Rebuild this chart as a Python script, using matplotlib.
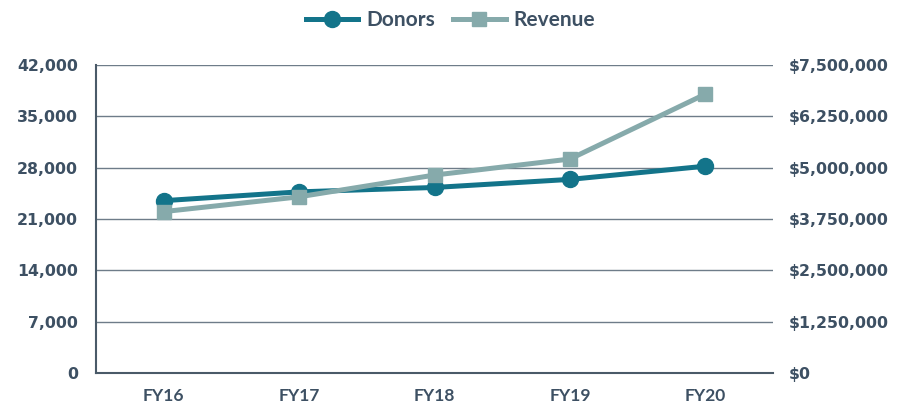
import matplotlib.pyplot as plt
from matplotlib.ticker import FuncFormatter

years = ["FY16", "FY17", "FY18", "FY19", "FY20"]
donors = [23500, 24700, 25300, 26400, 28200]
revenue = [3930000, 4290000, 4820000, 5210000, 6790000]

left_ticks = [0, 7000, 14000, 21000, 28000, 35000, 42000]
right_ticks = [0, 1250000, 2500000, 3750000, 5000000, 6250000, 7500000]

donor_color = "#13748a"
revenue_color = "#86aaab"
text_color = "#3d5063"
grid_color = "#6e7c89"

plt.rcParams["font.family"] = ["Lato", "DejaVu Sans"]

fig = plt.figure(figsize=(9.01, 4.11), dpi=100)
ax = fig.add_axes([96 / 901, 1 - 373 / 411, (773 - 96) / 901, (373 - 65) / 411])
ax2 = ax.twinx()

x = list(range(len(years)))
l1, = ax.plot(x, donors, color=donor_color, lw=3.6, marker="o", ms=11.5,
              label="Donors", zorder=3)
l2, = ax2.plot(x, revenue, color=revenue_color, lw=3.6, marker="s", ms=10,
               label="Revenue", zorder=3)

ax.set_xlim(-0.5, len(years) - 0.5)
ax.set_ylim(0, 42000)
ax2.set_ylim(0, 7500000)
ax.set_yticks(left_ticks)
ax2.set_yticks(right_ticks)
ax.set_xticks(x)
ax.set_xticklabels(years, fontweight="bold", fontsize=12.5, color=text_color)

ax.yaxis.set_major_formatter(FuncFormatter(lambda v, p: f"{int(v):,}"))
ax2.yaxis.set_major_formatter(FuncFormatter(lambda v, p: f"${int(v):,}"))

ax.grid(axis="y", color=grid_color, lw=1.0)
ax.set_axisbelow(True)

for a in (ax, ax2):
    for s in a.spines.values():
        s.set_visible(False)
    a.tick_params(axis="y", length=0, labelcolor=text_color)
ax.tick_params(axis="x", length=0, pad=11)
ax.spines["left"].set_visible(True)
ax.spines["bottom"].set_visible(True)
ax.spines["left"].set_color("#4a5a68")
ax.spines["bottom"].set_color("#4a5a68")
ax.spines["left"].set_linewidth(1.5)
ax.spines["bottom"].set_linewidth(1.5)

for lab in ax.get_yticklabels() + ax2.get_yticklabels():
    lab.set_family("DejaVu Sans")
    lab.set_fontweight("bold")
    lab.set_fontsize(11.3)
ax.tick_params(axis="y", pad=13)
ax2.tick_params(axis="y", pad=11)

leg = fig.legend(handles=[l1, l2], loc="center", bbox_to_anchor=(0.5, 1 - 20 / 411),
                 ncol=2, frameon=False, handlelength=2.5, columnspacing=0.9,
                 handletextpad=0.36, labelcolor=text_color,
                 prop={"family": "Lato", "weight": "bold", "size": 15})

fig.savefig("out.png", dpi=100)
